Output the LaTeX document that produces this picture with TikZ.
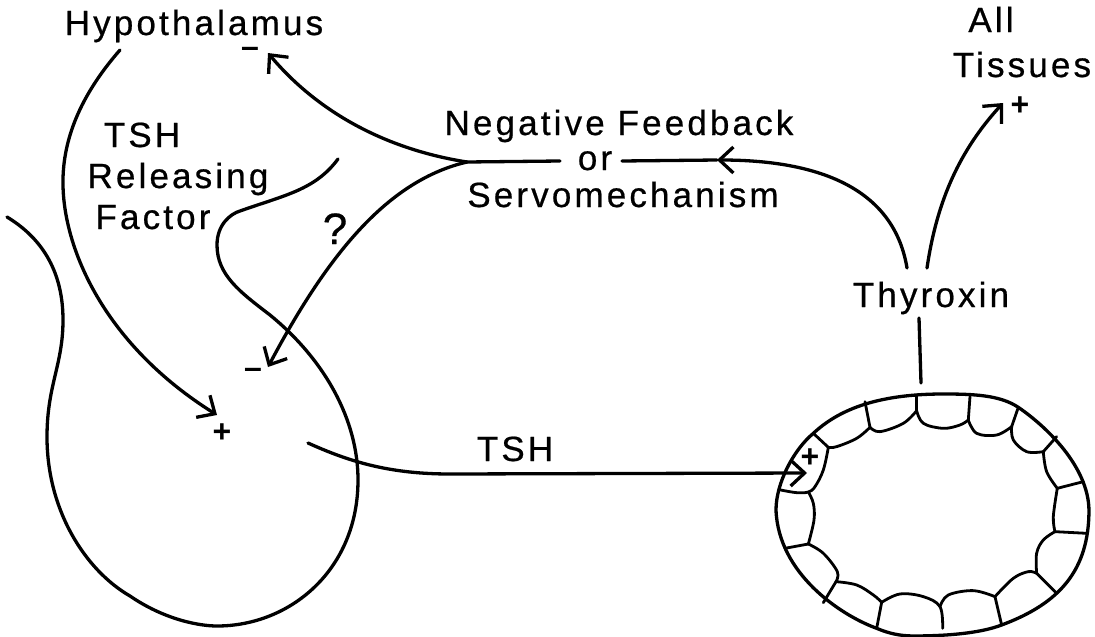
\documentclass[tikz,border=0pt]{standalone}
\usepackage{fontspec}
\setmainfont{Liberation Sans}
\newfontfamily\lblfont[LetterSpace=9,FakeBold=0.6]{Liberation Sans}
\usetikzlibrary{arrows.meta}
\tikzset{
	lbl/.style={inner sep=0pt,anchor=base,font=\fontsize{35}{42}\selectfont\lblfont},
	sign/.style={inner sep=0pt,font=\fontsize{32}{34}\selectfont\bfseries},
	wall/.style={line width=3.3pt,line cap=round,line join=round},
	cellwall/.style={line width=2.8pt,line cap=round,line join=round},
	conn/.style={line width=3.3pt,line cap=round,line join=round},
	arr/.style={conn,-{Straight Barb[length=14pt,width=26pt,line width=3.3pt]}}
}
\begin{document}
\begin{tikzpicture}[x=1pt,y=-1pt]
	\useasboundingbox (0,0) rectangle (1095,637);

	\node[lbl] (hypo) at (194,35) {Hypothalamus};
	\node[lbl] (tshrf) at (142,147) {TSH};
	\node[lbl] (rel) at (178,188) {Releasing};
	\node[lbl] (fac) at (153,229) {Factor};
	\node[lbl,font=\fontsize{44}{50}\selectfont\lblfont] (qm) at (335,244) {?};
	\node[lbl] (neg) at (619,135) {Negative Feedback};
	\node[lbl] (or) at (595,170) {or};
	\node[lbl] (servo) at (623,207) {Servomechanism};
	\node[lbl] (all) at (991,32) {All};
	\node[lbl] (tissues) at (1022,77) {Tissues};
	\node[lbl] (thyroxin) at (931,307) {Thyroxin};
	\node[lbl] (tsh) at (515,461) {TSH};

	\node[sign] (mhypo) at (250,52) {–};
	\node[sign] (mpit) at (253,373) {–};
	\node[sign] (ppit) at (222,433) {+};
	\node[sign] (pall) at (1020,106) {+};
	\node[sign] (pcell) at (810,458) {+};

	\coordinate (hypoout) at (120,50);
	\coordinate (pitmid) at (63,185);
	\coordinate (pitin) at (217,415);
	\coordinate (hypoin) at (268,53);
	\coordinate (pitneg) at (268,367);
	\coordinate (fbjoin) at (467,162);
	\coordinate (orleft) at (560,161);
	\coordinate (orright) at (622,161);
	\coordinate (fbtip) at (717,160);
	\coordinate (thyleft) at (907,268);
	\coordinate (thyright) at (927,268);
	\coordinate (tissin) at (1003,103);
	\coordinate (thydown) at (919,318);
	\coordinate (follicle) at (921,383);
	\coordinate (tshout) at (308,443);
	\coordinate (tshflat) at (450,474);
	\coordinate (tshin) at (807,473);

	% gland outline
	\draw[wall] (7,217) .. controls (45,240) and (63,275) .. (63,320)
		.. controls (63,365) and (47,385) .. (47,437)
		.. controls (47,510) and (85,570) .. (130,596)
		.. controls (165,620) and (200,626) .. (217,626)
		.. controls (290,626) and (358,570) .. (358,480)
		.. controls (358,420) and (325,360) .. (270,315)
		.. controls (240,292) and (217,275) .. (217,245)
		.. controls (217,225) and (230,214) .. (240,211)
		.. controls (285,195) and (315,190) .. (338,159);

	\draw[arr] (hypoout) .. controls (85,90) and (62,135) .. (pitmid)
		.. controls (64,250) and (105,345) .. (pitin);
	\draw[arr] (fbjoin) .. controls (390,150) and (320,115) .. (hypoin);
	\draw[arr] (fbjoin) .. controls (390,180) and (330,250) .. (pitneg);
	\draw[conn] (fbjoin) -- (orleft);
	\draw[conn] (fbtip) -- (orright);
	\draw[arr] (thyleft) .. controls (895,195) and (830,160) .. (fbtip);
	\draw[arr] (thyright) .. controls (937,200) and (960,150) .. (tissin);
	\draw[conn] (thydown) -- (follicle);
	\draw[arr] (tshout) .. controls (350,462) and (390,474) .. (tshflat) -- (tshin);

	% thyroid follicle
	\begin{scope}[shift={(760,370)},x=0.3333pt,y=-0.3333pt]
		\draw[wall] (550,72) .. controls (640,72) and (720,75) .. (775,112)
			.. controls (860,170) and (985,290) .. (987,420)
			.. controls (987,600) and (900,700) .. (725,765)
			.. controls (660,790) and (560,798) .. (460,798)
			.. controls (420,798) and (385,790) .. (350,775)
			.. controls (240,735) and (55,610) .. (48,420)
			.. controls (48,340) and (100,240) .. (160,190)
			.. controls (230,125) and (340,72) .. (550,72) -- cycle;
		\draw[cellwall] (160,190) -- (205,232);
		\draw[cellwall] plot[smooth,tension=0.6] coordinates {(205,232) (190,300) (165,350) (145,366) (110,368) (62,360)};
		\draw[cellwall] plot[smooth,tension=0.6] coordinates {(145,366) (160,400) (162,450) (145,522)};
		\draw[cellwall] (145,522) -- (75,535);
		\draw[cellwall] plot[smooth,tension=0.6] coordinates {(145,522) (190,550) (232,605) (228,635)};
		\draw[cellwall] (228,635) -- (190,698);
		\draw[cellwall] plot[smooth,tension=0.6] coordinates {(228,635) (290,645) (340,675) (365,697)};
		\draw[cellwall] (365,697) -- (350,775);
		\draw[cellwall] plot[smooth,tension=0.6] coordinates {(365,697) (420,672) (490,680) (540,710) (548,775)};
		\draw[cellwall] plot[smooth,tension=0.6] coordinates {(540,710) (565,675) (640,662) (705,680)};
		\draw[cellwall] (705,680) -- (725,765);
		\draw[cellwall] plot[smooth,tension=0.6] coordinates {(705,680) (760,625) (805,605) (830,610)};
		\draw[cellwall] (830,610) -- (890,670);
		\draw[cellwall] plot[smooth,tension=0.6] coordinates {(830,610) (830,550) (850,510) (885,485)};
		\draw[cellwall] (885,485) -- (980,490);
		\draw[cellwall] plot[smooth,tension=0.6] coordinates {(885,485) (880,440) (892,355)};
		\draw[cellwall] (892,355) -- (970,335);
		\draw[cellwall] plot[smooth,tension=0.6] coordinates {(892,355) (860,305) (850,245)};
		\draw[cellwall] (850,245) -- (890,200);
		\draw[cellwall] plot[smooth,tension=0.6] coordinates {(850,245) (800,245) (760,210) (755,170)};
		\draw[cellwall] (755,170) -- (775,112);
		\draw[cellwall] plot[smooth,tension=0.6] coordinates {(755,170) (710,195) (650,190) (625,150)};
		\draw[cellwall] (625,150) -- (630,80);
		\draw[cellwall] plot[smooth,tension=0.6] coordinates {(625,150) (600,165) (550,175) (490,160) (470,122)};
		\draw[cellwall] (470,122) -- (470,75);
		\draw[cellwall] plot[smooth,tension=0.6] coordinates {(470,122) (430,160) (360,185) (330,172)};
		\draw[cellwall] (330,172) -- (315,95);
		\draw[cellwall] plot[smooth,tension=0.6] coordinates {(330,172) (290,205) (230,230) (205,232)};
	\end{scope}
\end{tikzpicture}
\end{document}
